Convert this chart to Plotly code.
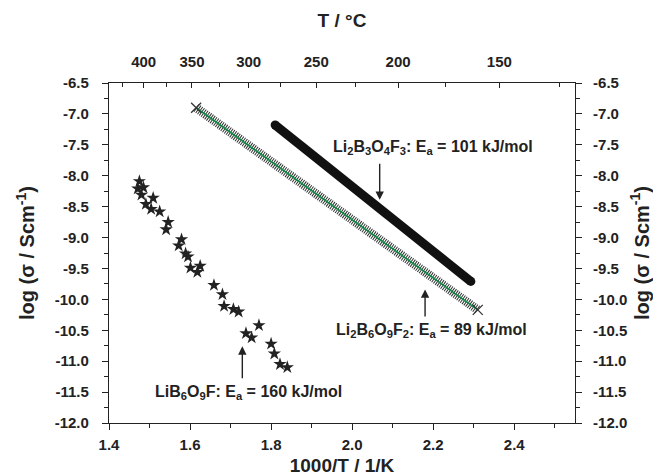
import plotly.graph_objects as go

# ---- data ----
# LiB6O9F (stars)
star_x = [1.475, 1.471, 1.485, 1.480, 1.491, 1.509, 1.504, 1.525, 1.546, 1.541,
          1.579, 1.572, 1.589, 1.595, 1.601, 1.625, 1.618, 1.659, 1.680, 1.684,
          1.707, 1.720, 1.738, 1.752, 1.770, 1.800, 1.808, 1.822, 1.840]
star_y = [-8.09, -8.21, -8.19, -8.31, -8.46, -8.36, -8.54, -8.58, -8.75, -8.87,
          -9.03, -9.13, -9.26, -9.31, -9.49, -9.46, -9.56, -9.77, -9.92, -10.11,
          -10.16, -10.20, -10.55, -10.62, -10.42, -10.72, -10.88, -11.05, -11.10]

# Li2B6O9F2 (crosses + green fit)
b6_x = [1.615, 2.310]
b6_y = [-6.90, -10.17]

# Li2B3O4F3 (thick black)
b3_x = [1.810, 2.293]
b3_y = [-7.18, -9.71]

# axis ticks
x_ticks = [1.4, 1.6, 1.8, 2.0, 2.2, 2.4]
y_ticks = [-12.0, -11.5, -11.0, -10.5, -10.0, -9.5, -9.0, -8.5, -8.0, -7.5, -7.0, -6.5]
top_T = [400, 350, 300, 250, 200, 150]
top_T_minor = [425, 375, 325, 275, 225, 175, 125]

x_range = [1.4, 2.55]
y_range = [-12.0, -6.5]

FONT = "Liberation Sans, Arial, sans-serif"

fig = go.Figure()

# hatched band of dense crosses
fig.add_trace(go.Scatter(x=b6_x, y=b6_y, mode="lines",
                         line=dict(color="#303030", width=9, dash="1px,1.2px"),
                         showlegend=False, hoverinfo="skip"))
fig.add_trace(go.Scatter(x=b3_x, y=b3_y, mode="lines+markers",
                         line=dict(color="#111111", width=9),
                         marker=dict(symbol="circle", size=9, color="#111111"),
                         showlegend=False))
fig.add_trace(go.Scatter(x=star_x, y=star_y, mode="markers",
                         marker=dict(symbol="star", size=10, color="#222222"),
                         showlegend=False))
# green fit line on the overlay axes (same ranges) so top/right axes are drawn
fig.add_trace(go.Scatter(x=b6_x, y=b6_y, mode="lines+markers", xaxis="x2", yaxis="y2",
                         line=dict(color="#0e8a45", width=1.6),
                         marker=dict(symbol="x-thin", size=10,
                                     line=dict(width=1.3, color="#333333")),
                         showlegend=False))

tick_font = dict(family=FONT, size=15, color="#222", weight="bold")
title_font = dict(family=FONT, size=19, color="#222", weight="bold")
ytitle_font = dict(family=FONT, size=20, color="#222", weight="bold")

common = dict(showline=True, linecolor="#222", linewidth=1.2, showgrid=False,
              zeroline=False, tickcolor="#222", tickwidth=1.2, tickfont=tick_font)

fig.update_layout(
    width=661, height=475,
    margin=dict(l=101, r=94, t=75, b=60),
    paper_bgcolor="white", plot_bgcolor="white",
    font=dict(family=FONT, color="#222"),
    xaxis=dict(range=x_range, tickmode="array", tickvals=x_ticks,
               ticktext=[f"{v:.1f}" for v in x_ticks],
               ticks="outside", ticklen=6, ticklabelstandoff=2,
               minor=dict(dtick=0.1, tick0=1.4, ticks="outside", ticklen=4,
                          tickcolor="#222", tickwidth=1.2),
               title=dict(text="1000/T / 1/K", font=title_font, standoff=6),
               **common),
    xaxis2=dict(range=x_range, overlaying="x", side="top", anchor="y2",
                tickmode="array", tickvals=[1000 / (t + 273.15) for t in top_T],
                ticktext=[str(t) for t in top_T], ticks="inside", ticklen=5,
                minor=dict(tickmode="array",
                           tickvals=[1000 / (t + 273.15) for t in top_T_minor],
                           ticks="inside", ticklen=4, tickcolor="#222", tickwidth=1.2),
                ticklabelstandoff=9,
                title=dict(text="T / °C", font=title_font, standoff=20),
                **common),
    yaxis=dict(range=y_range, tickmode="array", tickvals=y_ticks,
               ticktext=[f"{v:.1f}" for v in y_ticks],
               ticks="outside", ticklen=6, ticklabelstandoff=10,
               minor=dict(dtick=0.25, tick0=-12, ticks="outside", ticklen=4,
                          tickcolor="#222", tickwidth=1.2),
               title=dict(text="log (σ / Scm<sup>-1</sup>)", font=ytitle_font, standoff=14),
               **common),
    yaxis2=dict(range=y_range, overlaying="y", side="right", anchor="x2",
                tickmode="array", tickvals=y_ticks,
                ticktext=[f"{v:.1f}" for v in y_ticks],
                ticks="outside", ticklen=6, ticklabelstandoff=8,
                minor=dict(dtick=0.25, tick0=-12, ticks="outside", ticklen=4,
                           tickcolor="#222", tickwidth=1.2),
                title=dict(text="log (σ / Scm<sup>-1</sup>)", font=ytitle_font, standoff=6),
                **common),
)

ann_font = dict(family=FONT, size=16, color="#222", weight="bold")

fig.add_annotation(x=2.20, y=-7.55, text="Li<sub>2</sub>B<sub>3</sub>O<sub>4</sub>F<sub>3</sub>: E<sub>a</sub> = 101 kJ/mol",
                   showarrow=False, font=ann_font, xref="x", yref="y")
fig.add_annotation(x=2.197, y=-10.5, text="Li<sub>2</sub>B<sub>6</sub>O<sub>9</sub>F<sub>2</sub>: E<sub>a</sub> = 89 kJ/mol",
                   showarrow=False, font=ann_font, xref="x", yref="y")
fig.add_annotation(x=1.744, y=-11.5, text="LiB<sub>6</sub>O<sub>9</sub>F: E<sub>a</sub> = 160 kJ/mol",
                   showarrow=False, font=ann_font, xref="x", yref="y")

arrow = dict(showarrow=True, arrowhead=2, arrowsize=1.2, arrowwidth=1.4,
             arrowcolor="#222", text="", xref="x", yref="y", axref="x", ayref="y")
fig.add_annotation(x=2.068, y=-8.39, ax=2.068, ay=-7.78, **arrow)
fig.add_annotation(x=2.18, y=-9.84, ax=2.18, ay=-10.30, **arrow)
fig.add_annotation(x=1.729, y=-10.76, ax=1.729, ay=-11.30, **arrow)

fig.write_html("out.html")
